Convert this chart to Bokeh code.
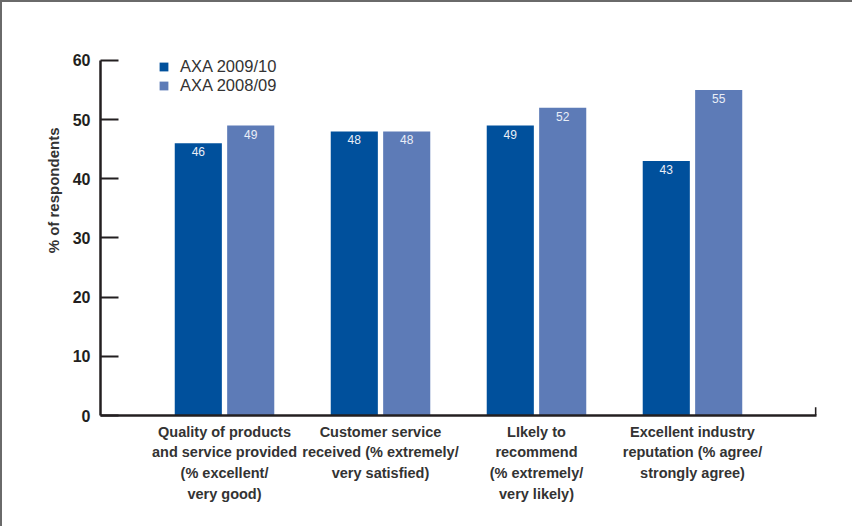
import math
from bokeh.plotting import figure
from bokeh.models import ColumnDataSource, FixedTicker, Legend, LegendItem, Title
from bokeh.transform import dodge
from bokeh.core.properties import value
from bokeh.embed import file_html
from bokeh.resources import INLINE

categories = [
    "Quality of products\nand service provided\n(% excellent/\nvery good)",
    "Customer service\nreceived (% extremely/\nvery satisfied)",
    "LIkely to\nrecommend\n(% extremely/\nvery likely)",
    "Excellent industry\nreputation (% agree/\nstrongly agree)",
]
axa_2009_10 = [46, 48, 49, 43]
axa_2008_09 = [49, 48, 52, 55]
series_names = ["AXA 2009/10", "AXA 2008/09"]
y_ticks = [0, 10, 20, 30, 40, 50, 60]
y_title = "% of respondents"

DARK = "#00509c"
LIGHT = "#5d7bb7"
AXIS = "#231f20"
TEXT = "#333333"
FONT = "Liberation Sans"

idx = list(range(len(categories)))
src = ColumnDataSource(dict(
    x=idx,
    a=axa_2009_10,
    b=axa_2008_09,
    la=[str(v) for v in axa_2009_10],
    lb=[str(v) for v in axa_2008_09],
))

x_end = len(categories) - 1 + 0.795
p = figure(width=852, height=526, output_backend="svg", toolbar_location=None,
           x_range=(-0.795, x_end), y_range=(0, 61.183),
           min_border_left=98, min_border_right=38, min_border_top=51,
           min_border_bottom=113)
p.styles = {"border-top": "2px solid #6a6a6a", "border-left": "2px solid #6a6a6a"}
p.outline_line_color = None
p.grid.grid_line_color = None
p.background_fill_color = "white"
p.border_fill_color = "white"

off = 0.168
w = 0.302
r1 = p.vbar(x=dodge("x", -off, range=p.x_range), top="a", width=w, source=src,
            fill_color=DARK, line_color=None)
r2 = p.vbar(x=dodge("x", off, range=p.x_range), top="b", width=w, source=src,
            fill_color=LIGHT, line_color=None)

for col, lab, o in (("a", "la", -off), ("b", "lb", off)):
    p.text(x=dodge("x", o, range=p.x_range), y=col, text=lab, source=src,
           text_align="center", text_baseline="top", y_offset=4,
           text_color="#e9eef7", text_font=value(FONT), text_font_size="12px")

# end tick of the category axis
p.segment(x0=[x_end - 0.004], y0=[0], x1=[x_end - 0.004], y1=[1.4],
          line_color=AXIS, line_width=2)

# y axis
ya = p.yaxis[0]
ya.ticker = FixedTicker(ticks=y_ticks)
ya.bounds = (y_ticks[0], y_ticks[-1])
ya.axis_line_color = AXIS
ya.axis_line_width = 2.5
ya.major_tick_line_color = AXIS
ya.major_tick_line_width = 2
ya.major_tick_in = 18
ya.major_tick_out = 0
ya.minor_tick_line_color = None
ya.major_label_standoff = 10
ya.major_label_text_font = FONT
ya.major_label_text_font_style = "bold"
ya.major_label_text_font_size = "16px"
ya.major_label_text_color = AXIS

# x axis
xa = p.xaxis[0]
xa.ticker = FixedTicker(ticks=idx)
xa.major_label_overrides = {i: c for i, c in zip(idx, categories)}
xa.axis_line_color = AXIS
xa.axis_line_width = 2.5
xa.major_tick_line_color = None
xa.major_tick_in = 0
xa.major_tick_out = 0
xa.minor_tick_line_color = None
xa.major_label_standoff = 8
xa.major_label_text_font = FONT
xa.major_label_text_font_style = "bold"
xa.major_label_text_font_size = "14.5px"
xa.major_label_text_color = TEXT
xa.major_label_text_line_height = 1.3

# y axis title
p.add_layout(Title(text=y_title, align="right", offset=74, standoff=15,
                   text_font=FONT, text_font_style="bold",
                   text_font_size="15px", text_color=TEXT), "left")

legend = Legend(items=[LegendItem(label=series_names[0], renderers=[r1]),
                       LegendItem(label=series_names[1], renderers=[r2])],
                location=(58, 320), orientation="vertical")
legend.background_fill_alpha = 0
legend.border_line_color = None
legend.padding = 0
legend.margin = 0
legend.spacing = 0
legend.glyph_width = 11
legend.glyph_height = 11
legend.label_height = 19
legend.label_standoff = 11
legend.label_text_font = FONT
legend.label_text_font_size = "16.5px"
legend.label_text_color = TEXT
p.add_layout(legend)

open("out.html", "w").write(file_html(p, INLINE))
